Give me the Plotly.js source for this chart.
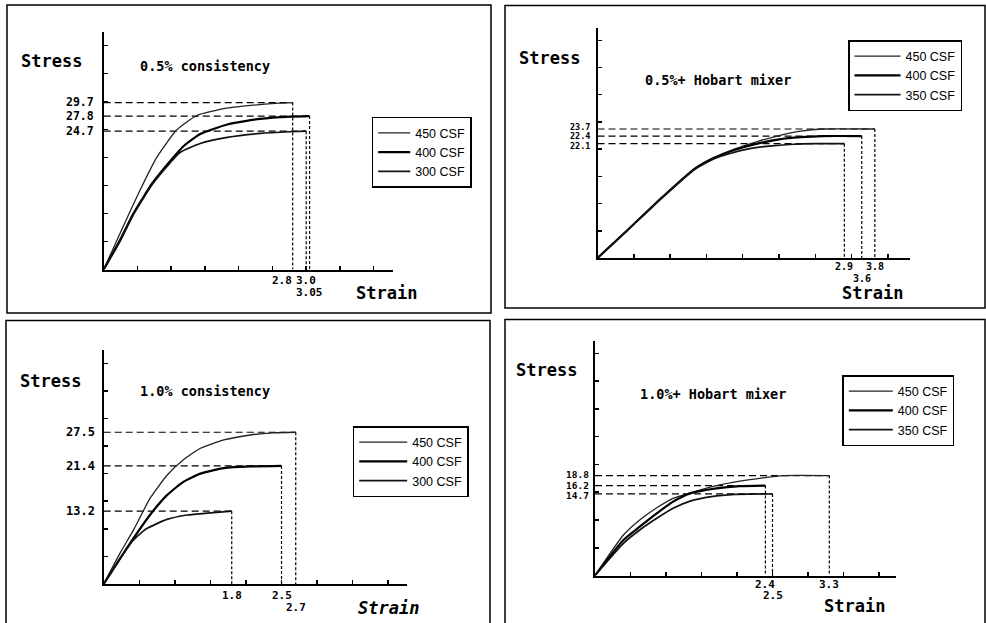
<!DOCTYPE html>
<html><head><meta charset="utf-8">
<script src="https://cdn.plot.ly/plotly-3.0.1.min.js"></script>
<style>html,body{margin:0;padding:0;background:#fff}#chart{width:986px;height:623px}</style>
</head><body><div id="chart"></div>
<script>
// ================= DATA =================
const panelTitles = ['0.5% consistency', '0.5%+ Hobart mixer', '1.0% consistency', '1.0%+ Hobart mixer'];
const legendNamesA = ['450 CSF', '400 CSF', '300 CSF'];
const legendNamesB = ['450 CSF', '400 CSF', '350 CSF'];
const stressTitle = 'Stress';
const strainTitle = 'Strain';

// Panel 1: 0.5% consistency
const p1Strain450 = [0, 0.24, 0.54, 0.79, 1.08, 1.38, 1.82, 2.27, 2.6, 2.8];
const p1Stress450 = [0, 6.4, 14.2, 20.1, 24.9, 27.5, 28.8, 29.4, 29.7, 29.8];
const p1Strain400 = [0, 0.24, 0.44, 0.72, 0.98, 1.19, 1.43, 1.83, 2.32, 2.77, 3.05];
const p1Stress400 = [0, 5.2, 10.0, 15.4, 19.3, 22.1, 24.2, 25.9, 26.9, 27.3, 27.4];
const p1Strain300 = [0, 0.24, 0.44, 0.72, 0.98, 1.13, 1.43, 1.83, 2.32, 2.76, 3.0];
const p1Stress300 = [0, 5.0, 9.8, 15.2, 19.0, 20.9, 22.5, 23.6, 24.3, 24.6, 24.7];
const p1EndStrain = [2.8, 3.05, 3.0];
const p1EndStress = [29.8, 27.4, 24.7];
const p1StrainLabels = ['2.8', '3.05', '3.0'];
const p1StressLabels = ['29.7', '27.8', '24.7'];

// Panel 2: 0.5% + Hobart mixer
const p2Strain450 = [0, 0.42, 0.88, 1.34, 1.62, 1.9, 2.2, 2.5, 2.8, 3.1, 3.82];
const p2Stress450 = [0, 5.2, 11.0, 16.4, 18.5, 20.1, 21.4, 22.5, 23.3, 23.7, 23.7];
const p2Strain400 = [0, 0.42, 0.88, 1.34, 1.62, 1.9, 2.2, 2.5, 2.8, 3.1, 3.64];
const p2Stress400 = [0, 5.2, 11.0, 16.4, 18.5, 19.9, 21.0, 21.8, 22.2, 22.4, 22.4];
const p2Strain350 = [0, 0.42, 0.88, 1.34, 1.6, 1.85, 2.1, 2.4, 2.7, 3.0, 3.4];
const p2Stress350 = [0, 5.2, 11.0, 16.3, 18.2, 19.3, 20.1, 20.6, 20.9, 21.0, 21.0];
const p2EndStrain = [3.82, 3.64, 3.4];
const p2EndStress = [23.7, 22.4, 21.0];
const p2StrainLabels = ['3.8', '3.6', '2.9'];
const p2StressLabels = ['23.7', '22.4', '22.1'];

// Panel 3: 1.0% consistency
const p3Strain450 = [0, 0.23, 0.42, 0.65, 0.89, 1.12, 1.36, 1.69, 2.06, 2.39, 2.7];
const p3Stress450 = [0, 5.6, 9.8, 15.5, 19.7, 22.5, 24.6, 26.1, 27.0, 27.4, 27.5];
const p3Strain400 = [0, 0.23, 0.42, 0.65, 0.89, 1.12, 1.36, 1.69, 2.06, 2.5];
const p3Stress400 = [0, 4.6, 8.3, 12.5, 16.1, 18.5, 20.0, 21.0, 21.3, 21.4];
const p3Strain300 = [0, 0.23, 0.42, 0.6, 0.89, 1.17, 1.5, 1.8];
const p3Stress300 = [0, 4.6, 8.0, 10.0, 11.7, 12.5, 12.9, 13.2];
const p3EndStrain = [2.7, 2.5, 1.8];
const p3EndStress = [27.5, 21.4, 13.2];
const p3StrainLabels = ['2.7', '2.5', '1.8'];
const p3StressLabels = ['27.5', '21.4', '13.2'];

// Panel 4: 1.0% + Hobart mixer
const p4Strain450 = [0, 0.40, 0.63, 0.87, 1.10, 1.34, 1.71, 2.04, 2.37, 2.65, 3.3];
const p4Stress450 = [0, 7.3, 10.0, 12.2, 13.9, 14.9, 16.2, 17.0, 17.6, 18.0, 18.0];
const p4Strain400 = [0, 0.40, 0.63, 0.87, 1.10, 1.34, 1.71, 2.04, 2.4];
const p4Stress400 = [0, 6.4, 8.8, 11.2, 13.3, 14.8, 15.7, 16.1, 16.2];
const p4Strain350 = [0, 0.40, 0.63, 0.87, 1.10, 1.34, 1.64, 1.97, 2.5];
const p4Stress350 = [0, 5.8, 8.2, 10.3, 12.1, 13.4, 14.2, 14.6, 14.7];
const p4EndStrain = [3.3, 2.4, 2.5];
const p4EndStress = [18.0, 16.2, 14.7];
const p4StrainLabels = ['3.3', '2.4', '2.5'];
const p4StressLabels = ['18.8', '16.2', '14.7'];

// ================= STYLE / LAYOUT CONFIG =================
const W = 986, H = 623;
const px = x => x / W;
const py = y => 1 - y / H;

const MONO = '"DejaVu Sans Mono", "Liberation Mono", monospace';
const SANS = '"Liberation Sans", Arial, sans-serif';
const curveWidths = [1.3, 2.2, 1.7];
const curveColors = ['#222', '#000', '#111'];

const panels = [
  { curves: [[p1Strain450, p1Stress450], [p1Strain400, p1Stress400], [p1Strain300, p1Stress300]],
    names: legendNamesA, endX: p1EndStrain, endY: p1EndStress, xLab: p1StrainLabels, yLab: p1StressLabels,
    box: [7, 5, 491, 313], axis: { l: 103.7, r: 393, b: 269.5, t: 31.7 }, xmax: 4.286, ymax: 42.46,
    legend: [371.7, 116.7], itemwidth: 32, title: [205.3, 66], stress: [51.7, 61], strain: [386, 292.7],
    rows: [0, 1, 0], anchors: ['right', 'center', 'center'], rowShift: [-3, -15], xFont: 11, yShift: -9, yFont: 11.5,
    yNudge: [0.5, 0, 0], strainItalic: false },
  { curves: [[p2Strain450, p2Stress450], [p2Strain400, p2Stress400], [p2Strain350, p2Stress350]],
    names: legendNamesB, endX: p2EndStrain, endY: p2EndStress, xLab: p2StrainLabels, yLab: p2StressLabels,
    box: [505, 5.5, 985, 308], axis: { l: 597.5, r: 909.7, b: 258, t: 28.3 }, xmax: 4.30, ymax: 42.2,
    legend: [848, 40], itemwidth: 46, title: [717.7, 80], stress: [549.3, 58.3], strain: [872, 293.3],
    rows: [0, 1, 0], anchors: ['center', 'center', 'center'], rowShift: [-1.5, -14], xFont: 10, yShift: -7, yFont: 8.5,
    yNudge: [2, 0, -2], strainItalic: false },
  { curves: [[p3Strain450, p3Stress450], [p3Strain400, p3Stress400], [p3Strain300, p3Stress300]],
    names: legendNamesA, endX: p3EndStrain, endY: p3EndStress, xLab: p3StrainLabels, yLab: p3StressLabels,
    box: [6, 320.5, 490, 630], axis: { l: 103.7, r: 406.7, b: 584, t: 350 }, xmax: 4.26, ymax: 42.4,
    legend: [352.7, 426], itemwidth: 48, title: [204.7, 391], stress: [50.8, 380.7], strain: [388, 607.7],
    rows: [1, 0, 0], anchors: ['center', 'center', 'center'], rowShift: [-4, -16], xFont: 11, yShift: -8, yFont: 12,
    yNudge: [0, 0, 0], strainItalic: true },
  { curves: [[p4Strain450, p4Stress450], [p4Strain400, p4Stress400], [p4Strain350, p4Stress350]],
    names: legendNamesB, endX: p4EndStrain, endY: p4EndStress, xLab: p4StrainLabels, yLab: p4StressLabels,
    box: [505, 319.5, 985, 630], axis: { l: 595, r: 895.7, b: 575.5, t: 340.7 }, xmax: 4.235, ymax: 42.3,
    legend: [842.3, 375], itemwidth: 44, title: [713, 394], stress: [546.3, 370], strain: [854.7, 606],
    rows: [0, 0, 1], anchors: ['center', 'center', 'center'], rowShift: [-1, -12], xFont: 11, yShift: -5, yFont: 9.5,
    yNudge: [1.5, 0, -1.5], strainItalic: false }
];

const traces = [];
const layout = {
  width: W, height: H, margin: { l: 0, r: 0, t: 0, b: 0 },
  paper_bgcolor: '#fff', plot_bgcolor: 'rgba(0,0,0,0)',
  showlegend: true, hovermode: false,
  annotations: [], shapes: []
};

panels.forEach((p, i) => {
  const n = i + 1;
  const xa = n === 1 ? 'x' : 'x' + n;
  const ya = n === 1 ? 'y' : 'y' + n;
  const xk = n === 1 ? 'xaxis' : 'xaxis' + n;
  const yk = n === 1 ? 'yaxis' : 'yaxis' + n;
  const lg = n === 1 ? 'legend' : 'legend' + n;

  layout[xk] = {
    domain: [px(p.axis.l), px(p.axis.r)], range: [0, p.xmax], anchor: ya,
    showline: true, linecolor: '#000', linewidth: 2, showgrid: false, zeroline: false,
    tickmode: 'linear', tick0: 0, dtick: 0.5, ticks: 'inside', ticklen: 4, tickwidth: 1.5, tickcolor: '#000',
    showticklabels: false, fixedrange: true
  };
  layout[yk] = {
    domain: [py(p.axis.b), py(p.axis.t)], range: [0, p.ymax], anchor: xa,
    showline: true, linecolor: '#000', linewidth: 2, showgrid: false, zeroline: false,
    tickmode: 'linear', tick0: 0, dtick: 5, ticks: 'inside', ticklen: 4, tickwidth: 1.5, tickcolor: '#000',
    showticklabels: false, fixedrange: true
  };
  layout[lg] = {
    x: px(p.legend[0]), y: py(p.legend[1]), xanchor: 'left', yanchor: 'top', xref: 'paper', yref: 'paper',
    bgcolor: '#fff', bordercolor: '#000', borderwidth: 1.5,
    font: { family: SANS, size: 12.5, color: '#000' }, itemwidth: p.itemwidth, tracegroupgap: 0
  };

  // dashed guide lines (drawn first, beneath the curves)
  p.endX.forEach((ex, k) => {
    const ey = p.endY[k];
    traces.push({ x: [0, ex], y: [ey, ey], xaxis: xa, yaxis: ya, mode: 'lines', showlegend: false,
      hoverinfo: 'skip', line: { color: '#000', width: 1.2, dash: '7px,4px' } });
    traces.push({ x: [ex, ex], y: [ey, 0], xaxis: xa, yaxis: ya, mode: 'lines', showlegend: false,
      hoverinfo: 'skip', line: { color: '#000', width: 1.2, dash: '3px,2px' } });
  });

  // curves
  p.curves.forEach((c, k) => {
    traces.push({ x: c[0], y: c[1], xaxis: xa, yaxis: ya, mode: 'lines', name: p.names[k], legend: lg,
      line: { color: curveColors[k], width: curveWidths[k], shape: 'spline', smoothing: 0.5 } });
  });

  // value labels
  p.yLab.forEach((t, k) => {
    layout.annotations.push({ text: t, xref: xa, yref: ya, x: 0, y: p.endY[k], xanchor: 'right', yanchor: 'middle',
      xshift: p.yShift, yshift: p.yNudge[k], borderpad: 0, showarrow: false,
      font: { family: MONO, size: p.yFont, color: '#000', weight: 'bold' } });
  });
  p.xLab.forEach((t, k) => {
    layout.annotations.push({ text: t, xref: xa, yref: ya, x: p.endX[k], y: 0, xanchor: p.anchors[k], yanchor: 'top',
      yshift: p.rowShift[p.rows[k]], borderpad: 0, showarrow: false,
      font: { family: MONO, size: p.xFont, color: '#000', weight: 'bold' } });
  });

  // titles
  layout.annotations.push({ text: panelTitles[i], xref: 'paper', yref: 'paper', x: px(p.title[0]), y: py(p.title[1]),
    xanchor: 'center', yanchor: 'middle', showarrow: false, font: { family: MONO, size: 13.5, color: '#000', weight: 'bold' } });
  layout.annotations.push({ text: stressTitle, xref: 'paper', yref: 'paper', x: px(p.stress[0]), y: py(p.stress[1]),
    xanchor: 'center', yanchor: 'middle', showarrow: false, font: { family: MONO, size: 17, color: '#000', weight: 'bold' } });
  layout.annotations.push({ text: strainTitle, xref: 'paper', yref: 'paper', x: px(p.strain[0]), y: py(p.strain[1]),
    xanchor: 'center', yanchor: 'middle', showarrow: false,
    font: { family: MONO, size: 17, color: '#000', weight: 'bold', style: p.strainItalic ? 'italic' : 'normal' } });

  // panel frame
  layout.shapes.push({ type: 'rect', xref: 'paper', yref: 'paper', x0: px(p.box[0]), x1: px(p.box[2]),
    y0: py(p.box[3]), y1: py(p.box[1]), line: { color: '#000', width: 1.5 }, fillcolor: 'rgba(0,0,0,0)', layer: 'below' });
});

Plotly.newPlot('chart', traces, layout, { staticPlot: true, displayModeBar: false });
</script></body></html>
